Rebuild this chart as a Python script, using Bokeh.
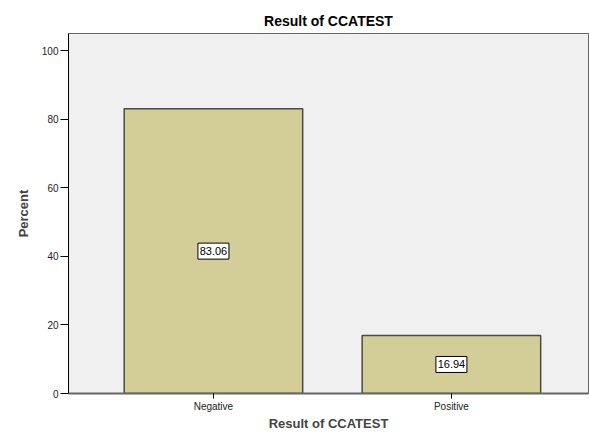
from bokeh.plotting import figure
from bokeh.models import ColumnDataSource, FixedTicker, Range1d
from bokeh.core.properties import value
from bokeh.embed import file_html
from bokeh.resources import INLINE

categories = ["Negative", "Positive"]
percents = [83.06, 16.94]
label_texts = ["83.06", "16.94"]
y_ticks = [0, 20, 40, 60, 80, 100]

xs = list(range(len(categories)))
src = ColumnDataSource(dict(
    x=xs,
    top=percents,
    mid=[v / 2 for v in percents],
    txt=label_texts,
))

p = figure(width=589, height=433, output_backend="svg", toolbar_location=None,
           x_range=Range1d(-0.609, 1.576), y_range=Range1d(0, 105),
           min_border_left=68, min_border_right=1, min_border_top=33, min_border_bottom=30,
           title="Result of CCATEST")

p.background_fill_color = "#F0F0F0"
p.border_fill_color = "white"
p.outline_line_color = "#666666"
p.outline_line_width = 1
p.xgrid.visible = False
p.ygrid.visible = False

p.title.align = "center"
p.title.text_font = "Liberation Sans"
p.title.text_font_size = "14px"
p.title.text_font_style = "bold"
p.title.text_color = "black"
p.title.offset = -13

p.vbar(x="x", top="top", width=0.75, bottom=0, source=src,
       fill_color="#D3CE97", line_color="#4A4A4A", line_width=1.5)

p.rect(x="x", y="mid", width=31, height=16, width_units="screen", height_units="screen",
       source=src, fill_color="white", line_color="black", line_width=1)
p.text(x="x", y="mid", text="txt", source=src, text_align="center", text_baseline="middle",
       text_font=value("Liberation Sans"), text_font_size="11px", text_color="black")

p.yaxis.ticker = FixedTicker(ticks=y_ticks)
p.yaxis.axis_label = "Percent"
p.yaxis.axis_label_text_font = "Liberation Sans"
p.yaxis.axis_label_text_font_size = "13px"
p.yaxis.axis_label_text_font_style = "bold"
p.yaxis.axis_label_standoff = 8
p.yaxis.major_label_text_font = "Liberation Sans"
p.yaxis.major_label_text_font_size = "10px"
p.yaxis.major_label_text_color = "#222222"
p.yaxis.major_tick_out = 8
p.yaxis.major_tick_in = 0
p.yaxis.minor_tick_out = 0
p.yaxis.minor_tick_in = 0
p.yaxis.major_label_standoff = 2
p.yaxis.axis_line_color = "black"
p.yaxis.major_tick_line_color = "black"

p.xaxis.ticker = FixedTicker(ticks=xs)
p.xaxis.major_label_overrides = {i: c for i, c in zip(xs, categories)}
p.xaxis.axis_label = "Result of CCATEST"
p.xaxis.axis_label_text_font = "Liberation Sans"
p.xaxis.axis_label_text_font_size = "13px"
p.xaxis.axis_label_text_font_style = "bold"
p.xaxis.axis_label_standoff = 1
p.xaxis.major_label_text_font = "Liberation Sans"
p.xaxis.major_label_text_font_size = "10px"
p.xaxis.major_label_text_color = "#222222"
p.xaxis.major_tick_out = 5
p.xaxis.major_tick_in = 0
p.xaxis.minor_tick_out = 0
p.xaxis.minor_tick_in = 0
p.xaxis.major_label_standoff = 2
p.xaxis.axis_line_color = "#666666"
p.xaxis.axis_line_width = 2
p.xaxis.major_tick_line_color = "black"

open("out.html", "w").write(file_html(p, INLINE))
